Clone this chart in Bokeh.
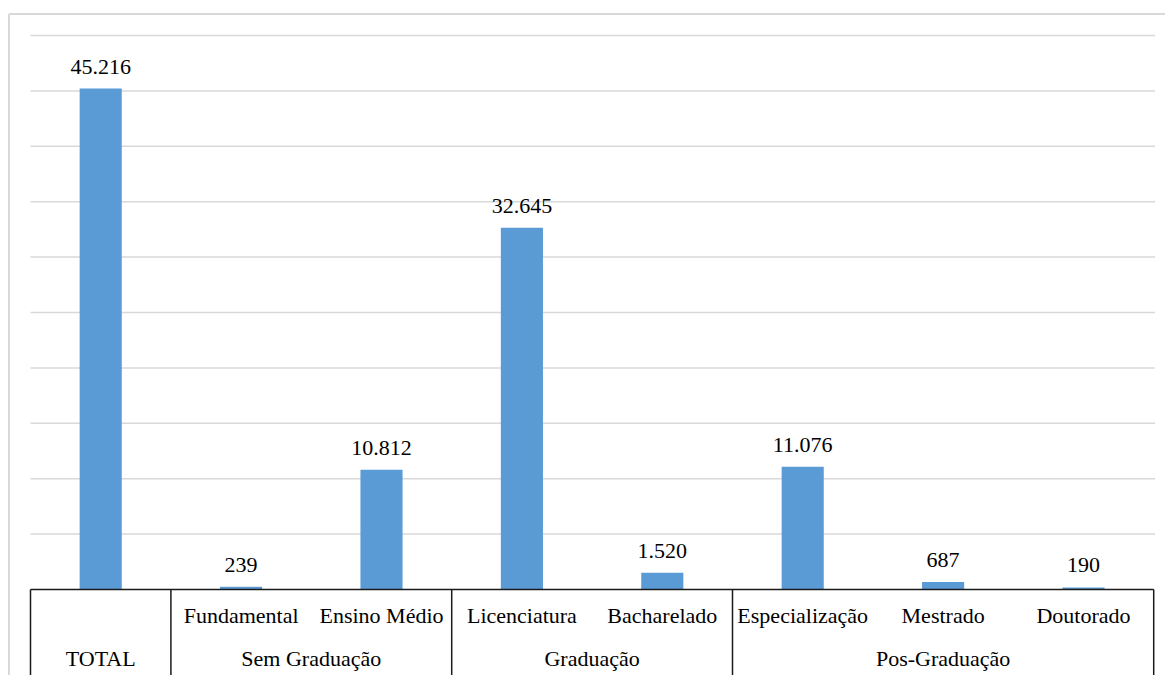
from bokeh.plotting import figure
from bokeh.models import Range1d, ColumnDataSource
from bokeh.core.properties import value
from bokeh.embed import file_html
from bokeh.resources import INLINE

# ---- data ----
categories = ["TOTAL", "Fundamental", "Ensino Médio", "Licenciatura", "Bacharelado",
              "Especialização", "Mestrado", "Doutorado"]
groups = ["TOTAL", "Sem Graduação", "Sem Graduação", "Graduação", "Graduação",
          "Pos-Graduação", "Pos-Graduação", "Pos-Graduação"]
values = [45216, 239, 10812, 32645, 1520, 11076, 687, 190]
grid_values = [5000, 10000, 15000, 20000, 25000, 30000, 35000, 40000, 45000, 50000]

FONT = value("Liberation Serif")
n = len(categories)

p = figure(width=1165, height=675, output_backend="svg", toolbar_location=None,
           x_range=Range1d(-0.2137, 8.084), y_range=Range1d(-7762, 53159),
           min_border_left=0, min_border_right=0, min_border_top=0, min_border_bottom=0)
p.xaxis.visible = False
p.yaxis.visible = False
p.xgrid.visible = False
p.ygrid.visible = False
p.outline_line_color = None
p.background_fill_color = "white"
p.border_fill_color = "white"

# outer light border (left and top)
p.segment(x0=[-0.1531, -0.1531], y0=[51940, 51940], x1=[-0.1531, 8.2], y1=[-8000, 51940],
          line_color="#d9d9d9", line_width=2)

# gridlines
p.segment(x0=[0] * len(grid_values), y0=grid_values, x1=[n + 0.01] * len(grid_values),
          y1=grid_values, line_color="#d9d9d9", line_width=1.5)

# bars
xs = [i + 0.5 for i in range(n)]
src = ColumnDataSource(dict(x=xs, top=values,
                            lab=[f"{v:,}".replace(",", ".") for v in values],
                            sub=[("" if g == c else c) for c, g in zip(categories, groups)]))
p.vbar(x="x", top="top", bottom=0, width=0.3, source=src, fill_color="#5b9bd5",
       line_color=None)

# value labels
p.text(x="x", y="top", text="lab", source=src, text_font=FONT, text_font_size="22px",
       text_align="center", text_baseline="alphabetic", y_offset=-22, text_color="#000000")

# category table lines
p.segment(x0=[0], y0=[0], x1=[n], y1=[0], line_color="#1a1a1a", line_width=1.5)
bounds = [0]
gnames, gcenters = [], []
start = 0
for i in range(1, n + 1):
    if i == n or groups[i] != groups[start]:
        gnames.append(groups[start])
        gcenters.append((start + i) / 2)
        bounds.append(i)
        start = i
p.segment(x0=bounds, y0=[0] * len(bounds), x1=bounds, y1=[-8000] * len(bounds),
          line_color="#1a1a1a", line_width=1.5)

# sub-category labels (first row)
p.text(x="x", y=0, text="sub", source=src, text_font=FONT, text_font_size="22px",
       text_align="center", text_baseline="alphabetic", y_offset=26, text_color="#000000")

# group labels (second row)
gsrc = ColumnDataSource(dict(x=gcenters, y=[0] * len(gcenters), t=gnames))
p.text(x="x", y="y", text="t", source=gsrc, text_font=FONT, text_font_size="22px",
       text_align="center", text_baseline="alphabetic", y_offset=69, text_color="#000000")

open("out.html", "w").write(file_html(p, INLINE))
